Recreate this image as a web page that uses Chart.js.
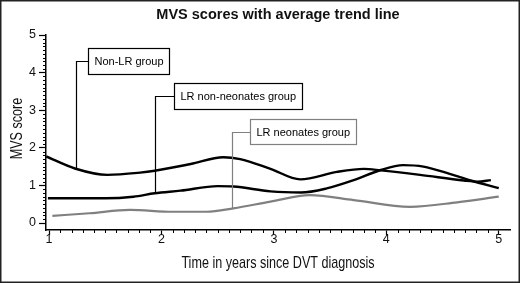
<!DOCTYPE html>
<html><head><meta charset="utf-8">
<script src="https://cdn.jsdelivr.net/npm/chart.js@4"></script>
<style>html,body{margin:0;padding:0;background:#fff}#wrap{width:520px;height:283px;position:relative}</style>
</head><body><div id="wrap"><canvas id="c" width="520" height="283"></canvas></div>
<script>
const chartTitle = 'MVS scores with average trend line';
const xAxisTitle = 'Time in years since DVT diagnosis';
const yAxisTitle = 'MVS score';
const xTickValues = [1, 2, 3, 4, 5];
const yTickValues = [0, 1, 2, 3, 4, 5];

const nonLrYears  = [0.975, 1.23, 1.52, 1.81, 1.94, 2.26, 2.55, 2.7, 2.97, 3.235, 3.56, 3.8, 3.95, 4.3, 4.69, 4.81, 4.93];
const nonLrScores = [1.77, 1.45, 1.28, 1.34, 1.39, 1.57, 1.75, 1.70, 1.44, 1.16, 1.36, 1.44, 1.40, 1.28, 1.13, 1.10, 1.14];

const lrNonNeoYears  = [0.99, 1.5, 1.75, 1.94, 2.17, 2.5, 2.64, 2.97, 3.24, 3.47, 3.71, 3.95, 4.15, 4.33, 4.57, 4.75, 5.0];
const lrNonNeoScores = [0.66, 0.66, 0.70, 0.79, 0.86, 0.98, 0.97, 0.84, 0.81, 0.92, 1.14, 1.41, 1.54, 1.50, 1.30, 1.13, 0.93];

const lrNeoYears  = [1.03, 1.36, 1.72, 2.1, 2.4, 2.64, 2.97, 3.32, 3.71, 4.21, 4.63, 5.0];
const lrNeoScores = [0.19, 0.26, 0.35, 0.30, 0.30, 0.39, 0.57, 0.74, 0.61, 0.43, 0.55, 0.70];

const seriesLabels = ['Non-LR group', 'LR non-neonates group', 'LR neonates group'];
const seriesColors = ['#000000', '#000000', '#808080'];

// callout boxes, positioned in data coordinates
const callouts = [
  { text: seriesLabels[0], color: '#000', lineX: 1.24, elbowY: 4.31, endY: 1.45, boxX: 1.347, boxTop: 4.65, boxBottom: 3.96 },
  { text: seriesLabels[1], color: '#000', lineX: 1.944, elbowY: 3.38, endY: 0.79, boxX: 2.113, boxTop: 3.72, boxBottom: 3.03 },
  { text: seriesLabels[2], color: '#808080', lineX: 2.63, elbowY: 2.42, endY: 0.39, boxX: 2.79, boxTop: 2.77, boxBottom: 2.10 }
];

const pts = (xs, ys) => xs.map((x, i) => ({ x: x, y: ys[i] }));
const SANS = '"Liberation Sans", Arial, Helvetica, sans-serif';

const framePlugin = {
  id: 'frame',
  beforeDraw(chart) {
    const c = chart.ctx;
    c.save(); c.fillStyle = '#fff'; c.fillRect(0, 0, chart.width, chart.height); c.restore();
  },
  afterDraw(chart) {
    const c = chart.ctx;
    c.save(); c.strokeStyle = '#222'; c.lineWidth = 1.5;
    c.strokeRect(0.75, 0.75, chart.width - 1.5, chart.height - 1.5); c.restore();
  }
};

// condensed axis titles (compressed horizontally like the original's narrow face)
const axisTitlePlugin = {
  id: 'axisTitles',
  afterDraw(chart) {
    const c = chart.ctx, a = chart.chartArea;
    c.save();
    c.fillStyle = '#111';
    c.font = '17px ' + SANS;
    c.textAlign = 'center';
    c.textBaseline = 'middle';
    c.save();
    c.translate((a.left + a.right) / 2, a.bottom + 33);
    c.scale(0.74, 1);
    c.fillText(xAxisTitle, 0, 0);
    c.restore();
    c.save();
    c.translate(17, (a.top + a.bottom) / 2 - 4);
    c.rotate(-Math.PI / 2);
    c.scale(0.74, 1);
    c.fillText(yAxisTitle, 0, 0);
    c.restore();
    c.restore();
  }
};

const minorTickPlugin = {
  id: 'minorTicks',
  afterDraw(chart) {
    const c = chart.ctx, xs = chart.scales.x, ys = chart.scales.y, a = chart.chartArea;
    c.save(); c.strokeStyle = '#000'; c.lineWidth = 1;
    c.beginPath();
    for (let i = 10; i <= 50; i++) {
      if (i % 10 === 0) continue;
      const px = Math.round(xs.getPixelForValue(i / 10)) + 0.5;
      c.moveTo(px, a.bottom); c.lineTo(px, a.bottom + 3);
    }
    for (let i = 0; i <= 50; i++) {
      if (i % 10 === 0) continue;
      const py = Math.round(ys.getPixelForValue(i / 10)) + 0.5;
      c.moveTo(a.left, py); c.lineTo(a.left - 3, py);
    }
    c.stroke(); c.restore();
  }
};

const calloutPlugin = {
  id: 'callouts',
  afterDatasetsDraw(chart) {
    const c = chart.ctx, xs = chart.scales.x, ys = chart.scales.y;
    c.save();
    c.font = '11px ' + SANS;
    c.textBaseline = 'middle';
    callouts.forEach(o => {
      const lx = Math.round(xs.getPixelForValue(o.lineX)) + 0.5;
      const ey = Math.round(ys.getPixelForValue(o.elbowY)) + 0.5;
      const endY = ys.getPixelForValue(o.endY);
      const bx = Math.round(xs.getPixelForValue(o.boxX)) + 0.5;
      const bt = Math.round(ys.getPixelForValue(o.boxTop)) + 0.5;
      const bb = Math.round(ys.getPixelForValue(o.boxBottom)) + 0.5;
      const tw = c.measureText(o.text).width;
      const bw = Math.round(tw + 12);
      c.strokeStyle = o.color; c.lineWidth = 1.2;
      c.beginPath();
      c.moveTo(lx, endY); c.lineTo(lx, ey); c.lineTo(bx, ey);
      c.stroke();
      c.fillStyle = '#fff';
      c.fillRect(bx, bt, bw, bb - bt);
      c.strokeRect(bx, bt, bw, bb - bt);
      c.fillStyle = '#000';
      c.fillText(o.text, bx + 6, (bt + bb) / 2 + 0.5);
    });
    c.restore();
  }
};

const mkScale = (min, max, tickVals, tickLen, pad, fitFn) => ({
  type: 'linear', min: min, max: max,
  afterBuildTicks: s => { s.ticks = tickVals.map(v => ({ value: v })); },
  afterFit: fitFn,
  grid: { display: true, drawOnChartArea: false, drawTicks: true, tickLength: tickLen, tickColor: '#000', tickWidth: 1.2 },
  border: { display: true, color: '#000', width: 1.5 },
  ticks: { color: '#111', font: { family: SANS, size: 12.5 }, padding: pad, maxRotation: 0, autoSkip: false, callback: v => String(v) },
  title: { display: false }
});

new Chart(document.getElementById('c'), {
  type: 'line',
  data: {
    datasets: [
      { label: seriesLabels[0], data: pts(nonLrYears, nonLrScores), borderColor: seriesColors[0], borderWidth: 2.4 },
      { label: seriesLabels[1], data: pts(lrNonNeoYears, lrNonNeoScores), borderColor: seriesColors[1], borderWidth: 2.4 },
      { label: seriesLabels[2], data: pts(lrNeoYears, lrNeoScores), borderColor: seriesColors[2], borderWidth: 2.2 }
    ]
  },
  options: {
    responsive: false,
    animation: false,
    devicePixelRatio: 1,
    layout: { padding: { left: 0, right: 10, top: 0, bottom: 0 } },
    elements: { point: { radius: 0 }, line: { cubicInterpolationMode: 'monotone', fill: false } },
    plugins: {
      legend: { display: false },
      tooltip: { enabled: false },
      title: { display: true, text: chartTitle, fullSize: false, color: '#111',
               font: { family: SANS, size: 14.5, weight: 'bold' }, padding: { top: 6.3, bottom: 11.3 } }
    },
    scales: {
      x: mkScale(0.973, 5.1, xTickValues, 5, -3, s => { s.height = 53; }),
      y: mkScale(-0.186, 5, yTickValues, 7, 3, s => { s.width = 46; })
    }
  },
  plugins: [framePlugin, minorTickPlugin, calloutPlugin, axisTitlePlugin]
});
</script></body></html>
